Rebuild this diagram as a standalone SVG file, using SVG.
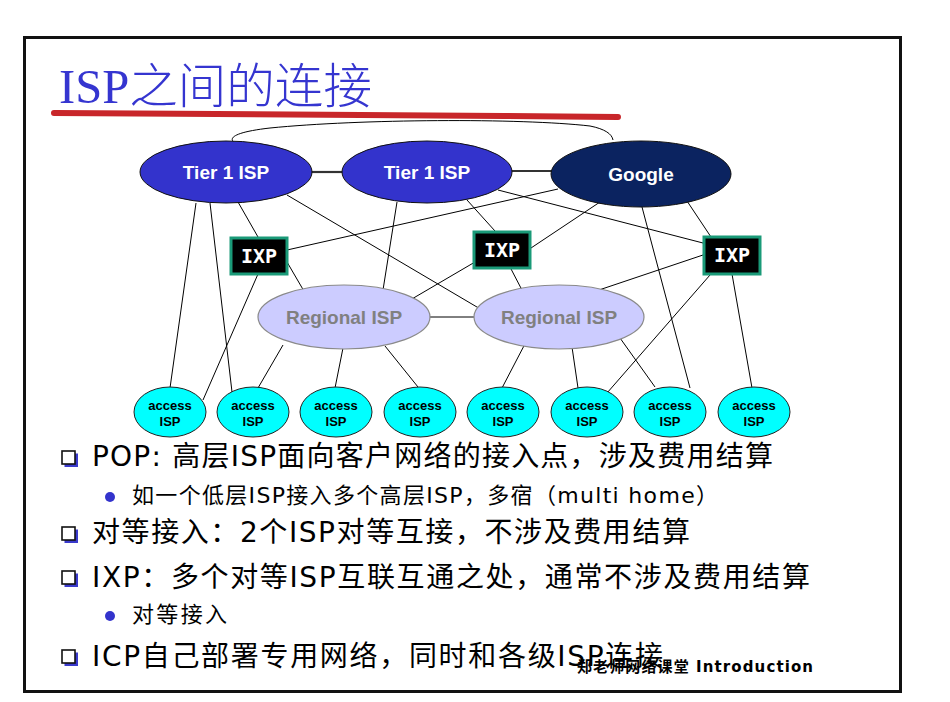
<svg xmlns="http://www.w3.org/2000/svg" width="950" height="702" viewBox="0 0 950 702">
  <style>
    .t1 { fill: #3333cc; stroke: #111; stroke-width: 1; }
    .goog { fill: #0b2360; stroke: #111; stroke-width: 1; }
    .reg { fill: #ccccff; stroke: #8a8a8a; stroke-width: 1.2; }
    .acc { fill: #00ffff; stroke: #222; stroke-width: 1; }
    .ixp { fill: #000; stroke: #1a9a78; stroke-width: 3; }
    .lbl { font-family: "Liberation Sans", Arial, sans-serif; font-weight: bold; text-anchor: middle; }
    .big { font-size: 19px; fill: #fff; }
    .regt { font-size: 19px; fill: #808080; }
    .acct { font-size: 13px; fill: #000; }
    .ixpt { font-family: "DejaVu Sans Mono", "Liberation Mono", monospace; font-weight: bold; font-size: 20px; fill: #fff; text-anchor: middle; }
    .edges line { stroke: #000; stroke-width: 1; }
    .edges .peer { stroke: #333; stroke-width: 2.2; }
    .body { font-family: "DejaVu Sans", "Noto Sans CJK SC", sans-serif; fill: #000; }
    .l1 { font-size: 28px; }
    .l2 { font-size: 22px; }
    .box { fill: #fff; stroke: #111; stroke-width: 1.6; }
    .boxsh { fill: #3a3acc; }
    .dot { fill: #3333cc; }
  </style>

  <!-- slide frame -->
  <rect x="24.5" y="37.5" width="876" height="654" fill="#fff" stroke="#111" stroke-width="3"/>

  <!-- title with brush underline -->
  <text x="59" y="103" font-family="'Liberation Serif', 'Noto Sans CJK SC', serif" font-size="48" font-weight="300" fill="#3535d0" textLength="313" lengthAdjust="spacingAndGlyphs">ISP之间的连接</text>
  <path d="M54,113 C150,114 400,115 618,117" fill="none" stroke="#c8262a" stroke-width="6" stroke-linecap="round"/>

  <!-- connectors -->
  <g id="connectors" class="edges">
    <path d="M242,146 C226,141 226,133 270,128 C360,119 520,118 590,126 C605,129 612,134 613,140" fill="none" stroke="#000" stroke-width="1"/>
    <line class="peer" x1="311" y1="172" x2="343" y2="172"/>
    <line class="peer" x1="512" y1="171" x2="553" y2="171"/>
    <!-- tier 1 (left) -->
    <line x1="196" y1="203" x2="170" y2="388"/>
    <line x1="210" y1="203" x2="232" y2="392"/>
    <line x1="238" y1="202" x2="258" y2="237"/>
    <line x1="287" y1="195" x2="482" y2="310"/>
    <!-- tier 1 (middle) -->
    <line x1="397" y1="202" x2="383" y2="290"/>
    <line x1="498" y1="190" x2="703" y2="243"/>
    <line x1="467" y1="200" x2="495" y2="231"/>
    <!-- google -->
    <line x1="558" y1="189" x2="287" y2="250"/>
    <line x1="600" y1="202" x2="531" y2="248"/>
    <line x1="642" y1="207" x2="690" y2="388"/>
    <line x1="683" y1="195" x2="711" y2="237"/>
    <!-- IXPs -->
    <line x1="258" y1="274" x2="203" y2="400"/>
    <line x1="287" y1="262" x2="308" y2="298"/>
    <line x1="475" y1="262" x2="405" y2="303"/>
    <line x1="510" y1="267" x2="523" y2="292"/>
    <line x1="703" y1="255" x2="593" y2="292"/>
    <line x1="710" y1="275" x2="607" y2="393"/>
    <line x1="732" y1="274" x2="752" y2="388"/>
    <!-- regionals -->
    <line x1="429" y1="317" x2="474" y2="317" stroke-width="1.5"/>
    <line x1="283" y1="345" x2="258" y2="388"/>
    <line x1="343" y1="348" x2="335" y2="388"/>
    <line x1="385" y1="346" x2="418" y2="387"/>
    <line x1="527" y1="340" x2="502" y2="388"/>
    <line x1="572" y1="347" x2="578" y2="388"/>
    <line x1="620" y1="338" x2="655" y2="387"/>
  </g>

  <!-- tier 1 and content providers -->
  <g id="tier1-left">
    <ellipse class="t1" cx="226" cy="172" rx="86" ry="31"/>
    <text class="lbl big" x="226" y="179">Tier 1 ISP</text>
  </g>
  <g id="tier1-mid">
    <ellipse class="t1" cx="427" cy="172" rx="85" ry="31"/>
    <text class="lbl big" x="427" y="179">Tier 1 ISP</text>
  </g>
  <g id="google">
    <ellipse class="goog" cx="641" cy="174" rx="90" ry="33"/>
    <text class="lbl big" x="641" y="181">Google</text>
  </g>

  <!-- exchange points -->
  <g id="ixp-1">
    <rect class="ixp" x="231" y="238" width="56" height="36"/>
    <text class="ixpt" x="259" y="263">IXP</text>
  </g>
  <g id="ixp-2">
    <rect class="ixp" x="474" y="232" width="56" height="36"/>
    <text class="ixpt" x="502" y="257">IXP</text>
  </g>
  <g id="ixp-3">
    <rect class="ixp" x="704" y="237" width="56" height="37"/>
    <text class="ixpt" x="732" y="262">IXP</text>
  </g>

  <!-- regional ISPs -->
  <g id="regional-left">
    <ellipse class="reg" cx="344" cy="317" rx="86" ry="32"/>
    <text class="lbl regt" x="344" y="324">Regional ISP</text>
  </g>
  <g id="regional-right">
    <ellipse class="reg" cx="559" cy="317" rx="85" ry="32"/>
    <text class="lbl regt" x="559" y="324">Regional ISP</text>
  </g>

  <!-- access ISPs -->
  <g id="access-1"><ellipse class="acc" cx="170" cy="412" rx="36" ry="25"/><text class="lbl acct" x="170" y="410">access</text><text class="lbl acct" x="170" y="426">ISP</text></g>
  <g id="access-2"><ellipse class="acc" cx="253" cy="412" rx="36" ry="25"/><text class="lbl acct" x="253" y="410">access</text><text class="lbl acct" x="253" y="426">ISP</text></g>
  <g id="access-3"><ellipse class="acc" cx="336" cy="412" rx="36" ry="25"/><text class="lbl acct" x="336" y="410">access</text><text class="lbl acct" x="336" y="426">ISP</text></g>
  <g id="access-4"><ellipse class="acc" cx="420" cy="412" rx="36" ry="25"/><text class="lbl acct" x="420" y="410">access</text><text class="lbl acct" x="420" y="426">ISP</text></g>
  <g id="access-5"><ellipse class="acc" cx="503" cy="412" rx="36" ry="25"/><text class="lbl acct" x="503" y="410">access</text><text class="lbl acct" x="503" y="426">ISP</text></g>
  <g id="access-6"><ellipse class="acc" cx="587" cy="412" rx="36" ry="25"/><text class="lbl acct" x="587" y="410">access</text><text class="lbl acct" x="587" y="426">ISP</text></g>
  <g id="access-7"><ellipse class="acc" cx="670" cy="412" rx="36" ry="25"/><text class="lbl acct" x="670" y="410">access</text><text class="lbl acct" x="670" y="426">ISP</text></g>
  <g id="access-8"><ellipse class="acc" cx="754" cy="412" rx="36" ry="25"/><text class="lbl acct" x="754" y="410">access</text><text class="lbl acct" x="754" y="426">ISP</text></g>

  <!-- bullet list -->
  <defs>
    <g id="sq">
      <rect class="boxsh" x="2.5" y="2.5" width="13.5" height="13.5"/>
      <rect class="box" x="0" y="0" width="13" height="13"/>
    </g>
  </defs>
  <use href="#sq" x="62" y="451"/>
  <text class="body l1" x="92" y="466" textLength="681" lengthAdjust="spacing">POP: 高层ISP面向客户网络的接入点，涉及费用结算</text>
  <circle class="dot" cx="110" cy="497" r="5"/>
  <text class="body l2" x="132" y="503" textLength="586" lengthAdjust="spacing">如一个低层ISP接入多个高层ISP，多宿（multi home）</text>
  <use href="#sq" x="62" y="527"/>
  <text class="body l1" x="92" y="542" textLength="598" lengthAdjust="spacing">对等接入：2个ISP对等互接，不涉及费用结算</text>
  <use href="#sq" x="62" y="571"/>
  <text class="body l1" x="92" y="587" textLength="718" lengthAdjust="spacing">IXP：多个对等ISP互联互通之处，通常不涉及费用结算</text>
  <circle class="dot" cx="110" cy="616" r="5"/>
  <text class="body l2" x="132" y="622" textLength="95" lengthAdjust="spacing">对等接入</text>
  <use href="#sq" x="62" y="650"/>
  <text class="body l1" x="92" y="666" textLength="571" lengthAdjust="spacing">ICP自己部署专用网络，同时和各级ISP连接</text>

  <!-- footer -->
  <text x="577" y="672" font-family="'DejaVu Sans', 'Noto Sans CJK SC', sans-serif" font-size="15" font-weight="bold" fill="#000" textLength="236" lengthAdjust="spacing">郑老师网络课堂  Introduction</text>
</svg>
